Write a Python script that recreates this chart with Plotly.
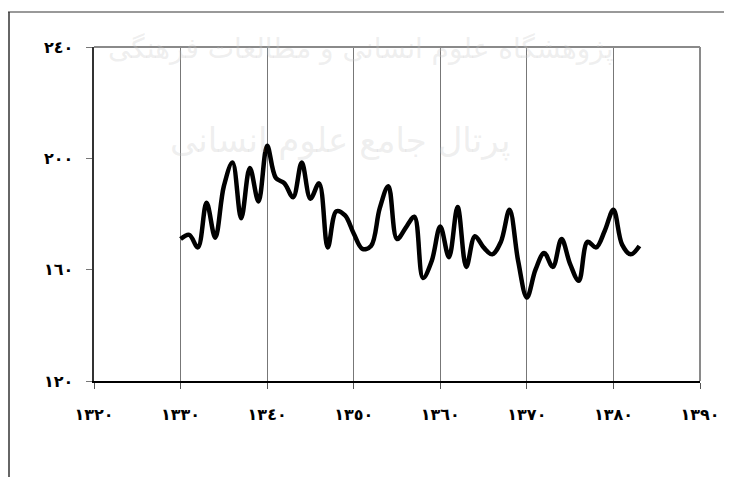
import plotly.graph_objects as go

years = list(range(1330, 1384))
values = [171, 172.5, 168, 184, 171.5, 190, 198.5, 178.5, 196.5, 184.5,
          204.5, 193, 191, 186, 198.5, 185.5, 191, 168, 181, 179.5,
          173, 167.5, 168.5, 182, 190, 171, 175, 179, 157, 163,
          175.5, 164.5, 182.5, 161, 172, 168, 165.5, 170, 181.5, 163,
          150, 160, 166, 161, 171, 162, 156, 170, 168, 174,
          181.5, 169, 165.5, 168.5]

x_ticks = [1320, 1330, 1340, 1350, 1360, 1370, 1380, 1390]
x_tick_labels = ["١٣٢٠", "١٣٣٠", "١٣٤٠", "١٣٥٠", "١٣٦٠", "١٣٧٠", "١٣٨٠", "١٣٩٠"]
y_ticks = [120, 160, 200, 240]
y_tick_labels = ["١٢٠", "١٦٠", "٢٠٠", "٢٤٠"]

W, H = 732, 477
OFF = 8  # page body margin
L, R, T, B = 94 - OFF, 700 - OFF, 47 - OFF, 381 - OFF

def px(x):
    return (x - OFF - L) / (R - L)

def py(y):
    return (B - (y - OFF)) / (B - T)

fig = go.Figure()
fig.add_trace(go.Scatter(
    x=years, y=values, mode="lines",
    line=dict(color="black", width=4.5, shape="spline", smoothing=1.0),
    hoverinfo="skip", showlegend=False,
))

tick_font = dict(family="DejaVu Sans", size=16, color="black", weight="bold")

annotations = [
    dict(text=lab, xref="paper", yref="y", x=px(75), y=val, xanchor="right",
         yanchor="middle", showarrow=False, font=tick_font)
    for val, lab in zip(y_ticks, y_tick_labels)
]
annotations += [
    dict(text="پژوهشگاه علوم انسانی و مطالعات فرهنگی", xref="paper", yref="paper",
         x=px(360), y=py(30), showarrow=False,
         font=dict(family="DejaVu Sans", size=28, color="rgba(200,200,200,0.3)")),
    dict(text="پرتال جامع علوم انسانی", xref="paper", yref="paper",
         x=px(340), y=py(118), showarrow=False,
         font=dict(family="DejaVu Sans", size=34, color="rgba(200,200,200,0.3)")),
]

fig.update_layout(
    width=W, height=H,
    margin=dict(l=L, r=W - R, t=T, b=H - B),
    paper_bgcolor="white", plot_bgcolor="white",
    showlegend=False,
    xaxis=dict(
        range=[1320, 1390], tickvals=x_ticks, ticktext=x_tick_labels,
        showgrid=True, gridcolor="#777777", gridwidth=1,
        showline=True, linecolor="black", linewidth=2,
        ticks="outside", ticklen=6, tickcolor="#555555",
        tickfont=tick_font, zeroline=False, ticklabelstandoff=12,
    ),
    yaxis=dict(
        range=[120, 240], tickvals=y_ticks, showticklabels=False,
        showgrid=False,
        showline=True, linecolor="#333333", linewidth=1.5,
        ticks="outside", ticklen=6, tickcolor="#777777",
        zeroline=False,
    ),
    shapes=[
        dict(type="line", xref="paper", yref="paper", x0=0, x1=1, y0=1, y1=1,
             line=dict(color="#8a8a8a", width=2)),
        dict(type="line", xref="paper", yref="paper", x0=1, x1=1, y0=0, y1=1,
             line=dict(color="#8a8a8a", width=2)),
        dict(type="line", xref="paper", yref="paper", x0=px(5), x1=px(740),
             y0=py(12), y1=py(12), line=dict(color="#777777", width=1.5)),
        dict(type="line", xref="paper", yref="paper", x0=px(9), x1=px(9),
             y0=py(12), y1=py(485), line=dict(color="#333333", width=1.5)),
    ],
    annotations=annotations,
)

fig.write_html("out.html")
